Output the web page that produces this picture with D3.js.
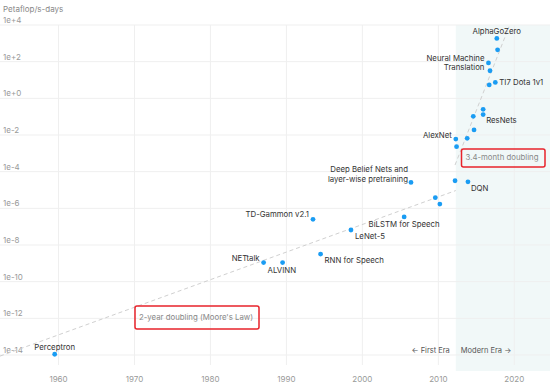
<!DOCTYPE html>
<html>
<head>
<meta charset="utf-8">
<script src="https://cdn.jsdelivr.net/npm/d3@7"></script>
<style>
  html, body { margin: 0; padding: 0; background: #fff; }
  svg { display: block; font-family: Inter, "Noto Sans", sans-serif; }
</style>
</head>
<body>
<div id="chart"></div>
<script>
// AI compute over time (Petaflop/s-days, log scale)
const names = ["Perceptron", "NETtalk", "ALVINN", "TD-Gammon v2.1", "RNN for Speech", "LeNet-5",
  "BiLSTM for Speech", "Deep Belief Nets and\nlayer-wise pretraining", "", "", "", "DQN",
  "AlexNet", "", "", "", "", "", "ResNets", "", "TI7 Dota 1v1",
  "Neural Machine\nTranslation", "", "", "AlphaGoZero"];
const years = [1959.5, 1987.0, 1989.5, 1993.5, 1994.5, 1998.5,
  2005.5, 2006.4, 2009.6, 2010.2, 2012.2, 2013.9,
  2012.3, 2012.4, 2013.8, 2014.7, 2014.6, 2015.9, 2015.9, 2016.7, 2017.5,
  2016.6, 2016.8, 2017.8, 2017.7];
const values = [1.1e-14, 1.1e-9, 1.1e-9, 2.5e-7, 3.2e-9, 6.6e-8,
  3.4e-7, 2.6e-5, 3.8e-6, 1.7e-6, 3.2e-5, 2.8e-5,
  6.0e-3, 2.3e-3, 6.6e-3, 1.9e-2, 0.105, 0.25, 0.13, 5.4, 7.4,
  85, 32, 440, 1860];

// trend lines: [start year, end year, start value, doubling time in years]
const mooreTrend = [1952.3, 2012.3, 8.7e-15, 2];
const modernTrend = [2012.2, 2019.3, 2.3e-4, 3.4 / 12];

const yTicks = [1e4, 1e2, 1e0, 1e-2, 1e-4, 1e-6, 1e-8, 1e-10, 1e-12, 1e-14];
const yTickLabels = ["1e+4", "1e+2", "1e+0", "1e-2", "1e-4", "1e-6", "1e-8", "1e-10", "1e-12", "1e-14"];
const xTicks = [1960, 1970, 1980, 1990, 2000, 2010, 2020];
const modernStart = 2012.3;

// label placement for annotated points: [dx, dy, anchor]
const labelPos = {
  "Perceptron": [0, -4, "middle"],
  "NETtalk": [-4, -2, "end"],
  "ALVINN": [-15, 10, "start"],
  "TD-Gammon v2.1": [-4, -2, "end"],
  "RNN for Speech": [4, 9, "start"],
  "LeNet-5": [4, 9, "start"],
  "BiLSTM for Speech": [0, 10, "middle"],
  "Deep Belief Nets and\nlayer-wise pretraining": [-3, -10, "end"],
  "DQN": [3, 9, "start"],
  "AlexNet": [-4, -1, "end"],
  "ResNets": [3, 8, "start"],
  "TI7 Dota 1v1": [4, 3, "start"],
  "Neural Machine\nTranslation": [-4, -2, "end"],
  "AlphaGoZero": [0, -4, "middle"]
};

const width = 550, height = 388;
const plotTop = 25, plotBottom = 355;

const x = d3.scaleLinear().domain([1952.3, 2024.7]).range([0, width]);
const y = d3.scaleLog().domain([1e4, 1e-14]).range([plotTop, plotBottom]);

const svg = d3.select("#chart").append("svg")
  .attr("width", width).attr("height", height);

// modern era shading
svg.append("rect")
  .attr("x", x(modernStart)).attr("y", plotTop)
  .attr("width", width - x(modernStart)).attr("height", 371 - plotTop)
  .attr("fill", "#f1f8f8");

// grid
svg.append("g").selectAll("line").data(yTicks).join("line")
  .attr("x1", 0).attr("x2", width)
  .attr("y1", d => y(d)).attr("y2", d => y(d))
  .attr("stroke", "#efefef").attr("stroke-width", 1);
svg.append("g").selectAll("line").data(xTicks).join("line")
  .attr("x1", d => x(d)).attr("x2", d => x(d))
  .attr("y1", plotTop).attr("y2", 365)
  .attr("stroke", "#efefef").attr("stroke-width", 1);

// tick labels
svg.append("g").selectAll("text").data(yTicks).join("text")
  .attr("x", 3).attr("y", d => y(d) - 2)
  .attr("font-size", 8).attr("fill", "#999")
  .text((d, i) => yTickLabels[i]);
svg.append("g").selectAll("text").data(xTicks).join("text")
  .attr("x", d => x(d)).attr("y", 382)
  .attr("text-anchor", "middle")
  .attr("font-size", 8).attr("fill", "#999")
  .text(d => d);

svg.append("text")
  .attr("x", 3).attr("y", 12)
  .attr("font-size", 8).attr("fill", "#888")
  .text("Petaflop/s-days");

// trend lines
const line = d3.line().x(d => x(d[0])).y(d => y(d[1]));
function trendPoints(t) {
  const [y0, y1, v0, dbl] = t;
  return [[y0, v0], [y1, v0 * Math.pow(2, (y1 - y0) / dbl)]];
}
[mooreTrend, modernTrend].forEach(t => {
  svg.append("path")
    .attr("d", line(trendPoints(t)))
    .attr("fill", "none")
    .attr("stroke", "#d0d0d0")
    .attr("stroke-width", 1)
    .attr("stroke-dasharray", "4,3");
});

// era labels
svg.append("text")
  .attr("x", x(modernStart) - 6).attr("y", 353)
  .attr("text-anchor", "end").attr("font-size", 7.5).attr("fill", "#555")
  .text("\u2190 First Era");
svg.append("text")
  .attr("x", x(modernStart) + 5).attr("y", 353)
  .attr("font-size", 7.5).attr("fill", "#555")
  .text("Modern Era \u2192");

// points
const pts = years.map((yr, i) => ({ year: yr, value: values[i], name: names[i] }));
svg.append("g").selectAll("circle").data(pts).join("circle")
  .attr("cx", d => x(d.year)).attr("cy", d => y(d.value))
  .attr("r", 2.4).attr("fill", "#1a9cf3");

// point labels
const lab = svg.append("g").selectAll("text").data(pts.filter(d => d.name)).join("text")
  .attr("font-size", 7.8).attr("fill", "#333")
  .attr("text-anchor", d => labelPos[d.name][2])
  .attr("x", d => x(d.year) + labelPos[d.name][0])
  .attr("y", d => y(d.value) + labelPos[d.name][1]);
lab.each(function (d) {
  const parts = d.name.split("\n");
  d3.select(this).selectAll("tspan").data(parts).join("tspan")
    .attr("x", x(d.year) + labelPos[d.name][0])
    .attr("dy", (p, i) => i === 0 ? 0 : 9.5)
    .text(p => p);
});

// highlighted annotations
function box(bx, by, bw, bh, txt) {
  svg.append("rect")
    .attr("x", bx).attr("y", by).attr("width", bw).attr("height", bh)
    .attr("rx", 2).attr("fill", "none")
    .attr("stroke", "#e8232b").attr("stroke-width", 1.5);
  svg.append("text")
    .attr("x", bx + 4).attr("y", by + bh / 2 + 2)
    .attr("font-size", 7.8).attr("fill", "#888")
    .text(txt);
}
box(461.5, 149, 83.5, 18, "3.4-month doubling");
box(135, 306, 124, 23, "2-year doubling (Moore's Law)");
</script>
</body>
</html>
